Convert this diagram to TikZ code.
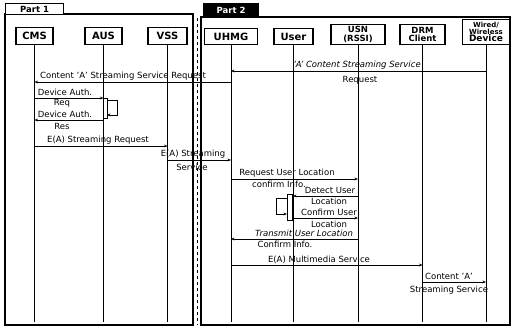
\documentclass[tikz,border=0pt]{standalone}
\usepackage{fontspec}
\setmainfont{DejaVu Sans}
\usetikzlibrary{arrows.meta}
\begin{document}
\begin{tikzpicture}[x=1pt,y=-1pt,
  head/.style={draw, line width=1.1pt, font=\bfseries\fontsize{10}{10}\selectfont, inner sep=0pt, minimum height=17pt, align=center, anchor=south},
  life/.style={line width=0.8pt},
  msg/.style={line width=0.8pt, -{Stealth[length=3.5pt,width=2.8pt]}},
  lbl/.style={font=\fontsize{8.5}{9}\selectfont, inner sep=0pt},
  ilbl/.style={font=\itshape\fontsize{8.5}{9}\selectfont, inner sep=0pt},
  framebox/.style={line width=1.1pt},
  tab/.style={draw, line width=1pt, font=\bfseries\fontsize{8.5}{9}\selectfont, inner sep=0pt, anchor=north west}]
\useasboundingbox (0,0) rectangle (512,330);

% frames
\draw[framebox] (5,14) rectangle (193,325);
\draw[framebox] (201,17) rectangle (510,325);
\draw[line width=0.5pt, dashed] (197,18) -- (197,325);
\node[tab, fill=white, minimum width=58pt, minimum height=11pt] (p1) at (5,3) {Part 1};
\node[tab, fill=black, text=white, minimum width=55pt, minimum height=14pt] (p2) at (203,3) {Part 2};

% heads
\node[head, minimum width=37pt] (cms) at (34.5,45) {CMS};
\node[head, minimum width=37pt] (aus) at (103.5,45) {AUS};
\node[head, minimum width=39pt] (vss) at (167.5,45) {VSS};
\node[head, minimum width=53pt, minimum height=16pt] (uhmg) at (231,45) {UHMG};
\node[head, minimum width=39pt, minimum height=16pt] (user) at (293.5,45) {User};
\node[head, minimum width=54pt, minimum height=20pt, font=\bfseries\fontsize{8.5}{8.5}\selectfont] (usn) at (358,45) {USN\\(RSSI)};
\node[head, minimum width=45pt, minimum height=20pt, font=\bfseries\fontsize{8.5}{8.5}\selectfont] (drm) at (422.5,45) {DRM\\Client};
\node[head, minimum width=47pt, minimum height=25pt, font=\bfseries\fontsize{7}{7.2}\selectfont] (dev) at (486,45) {Wired/\\Wireless\\{\fontsize{9}{9}\selectfont Device}};

% lifelines
\foreach \n in {cms,aus,vss,uhmg,user,usn,drm,dev}
  \draw[life] (\n.south) -- (\n.south |- 0,322);

% messages
\draw[msg] (dev.south |- 0,71) -- (uhmg.south |- 0,71);
\node[ilbl] (l1) at (357,65.5) {'A' Content Streaming Service};
\node[lbl] (l1b) at (360,80) {Request};

\draw[msg] (uhmg.south |- 0,82) -- (cms.south |- 0,82);
\node[lbl] (l2) at (123,76.5) {Content 'A' Streaming Service Request};

\draw[msg] (cms.south |- 0,98) -- (aus.south |- 0,98);
\node[lbl] (l3) at (65,92.5) {Device Auth.};
\node[lbl] (l3b) at (62,103.5) {Req};

% AUS self activation
\draw[line width=0.8pt, fill=white] (aus.south |- 0,98) rectangle ++(4,20);
\coordinate (a1) at (107,100);
\coordinate (a2) at (117,100);
\coordinate (a3) at (117,115);
\coordinate (a4) at (107,115);
\draw[msg] (a1) -- (a2) -- (a3) -- (a4);

\draw[msg] (aus.south |- 0,120) -- (cms.south |- 0,120);
\node[lbl] (l4) at (65,114.5) {Device Auth.};
\node[lbl] (l4b) at (62,126) {Res};

\draw[msg] (cms.south |- 0,146) -- (vss.south |- 0,146);
\node[lbl] (l5) at (98,140) {E(A) Streaming Request};

\draw[msg] (vss.south |- 0,160) -- (uhmg.south |- 0,160);
\node[lbl] (l6) at (193,154) {E(A) Streaming};
\node[lbl] (l6b) at (192,167) {Service};

\draw[msg] (uhmg.south |- 0,179) -- (usn.south |- 0,179);
\node[lbl] (l7) at (287,173) {Request User Location};
\node[lbl] (l7b) at (279,184.5) {confirm Info.};

% User activation
\node[draw, line width=0.8pt, fill=white, minimum width=5pt, minimum height=26pt, inner sep=0pt, anchor=north east] (act) at (293,194) {};
\coordinate (u1) at (287,198);
\coordinate (u2) at (276,198);
\coordinate (u3) at (276,214);
\coordinate (u4) at (287,214);
\draw[msg] (u1) -- (u2) -- (u3) -- (u4);

\draw[msg] (usn.south |- 0,196) -- (act.east |- 0,196);
\node[lbl] (l8) at (330,190.5) {Detect User};
\node[lbl] (l8b) at (329,201.5) {Location};

\draw[msg] (act.east |- 0,218) -- (usn.south |- 0,218);
\node[lbl] (l9) at (329,212) {Confirm User};
\node[lbl] (l9b) at (329,224) {Location};

\draw[msg] (usn.south |- 0,239) -- (uhmg.south |- 0,239);
\node[ilbl] (l10) at (304,233) {Transmit User Location};
\node[lbl] (l10b) at (285,244.5) {Confirm Info.};

\draw[msg] (uhmg.south |- 0,265) -- (drm.south |- 0,265);
\node[lbl] (l11) at (319,259.5) {E(A) Multimedia Service};

\draw[msg] (drm.south |- 0,282) -- (dev.south |- 0,282);
\node[lbl] (l12) at (449,276) {Content 'A'};
\node[lbl] (l12b) at (449,290) {Streaming Service};
\end{tikzpicture}
\end{document}
